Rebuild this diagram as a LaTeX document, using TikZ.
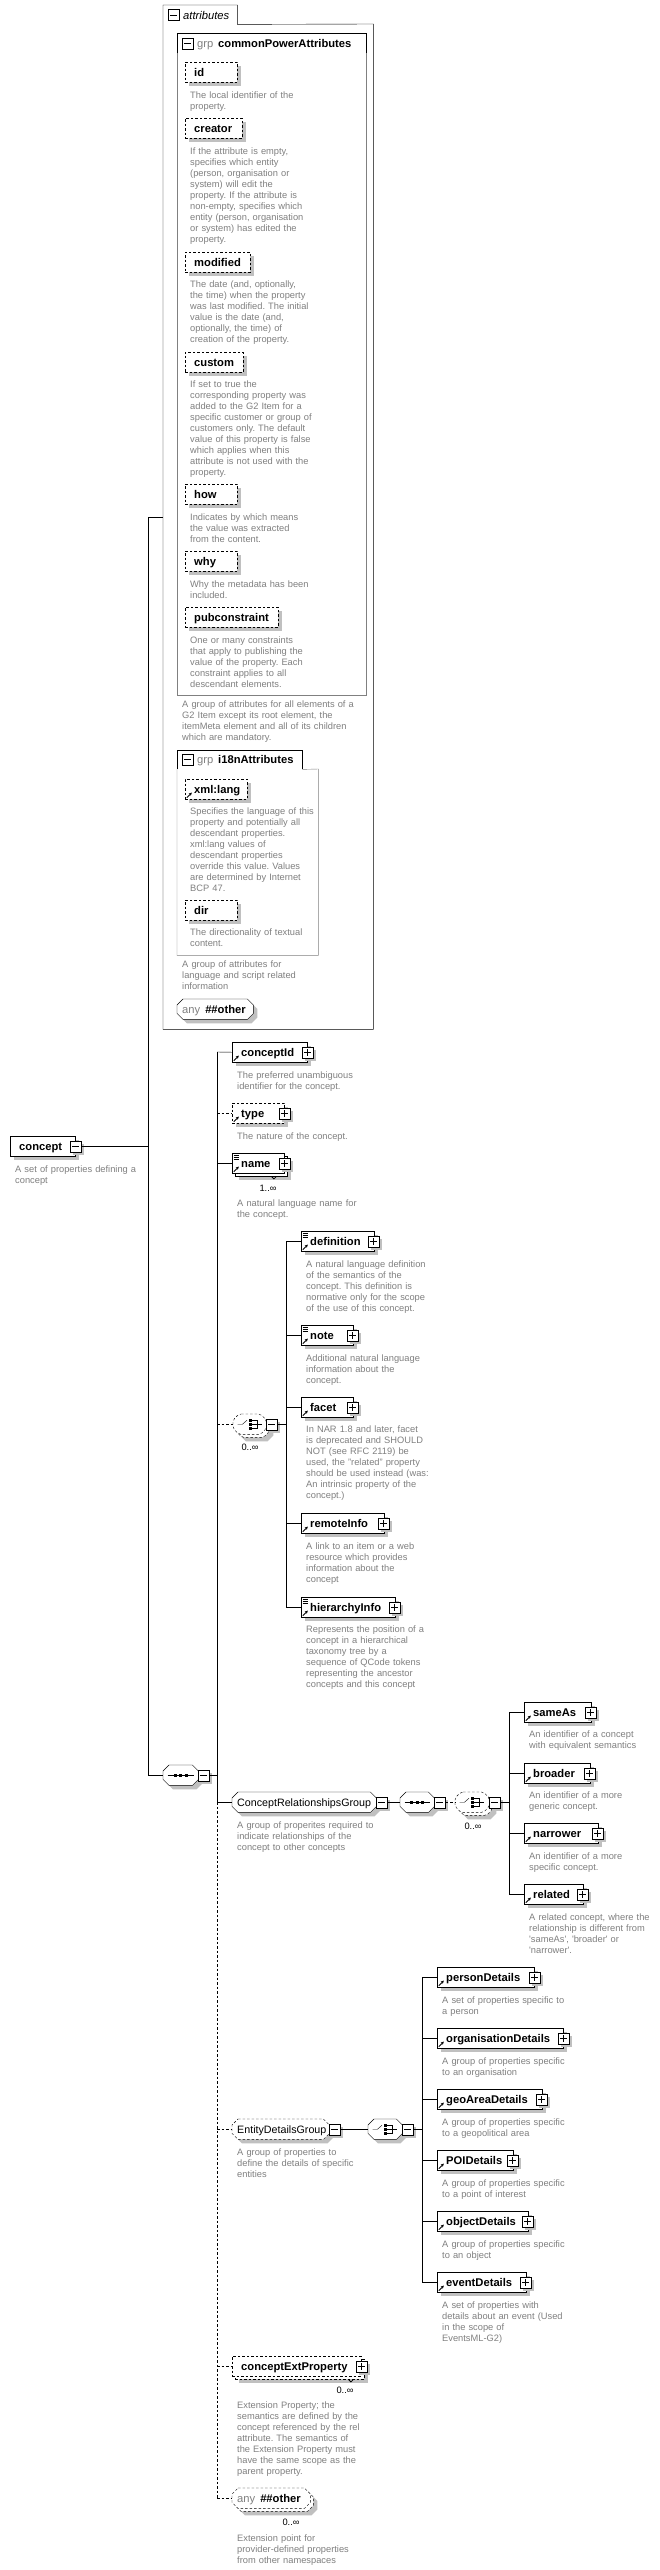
\documentclass[tikz,border=0pt]{standalone}
\usepackage{fontspec}
\setmainfont{Liberation Sans}
\usetikzlibrary{shadows,arrows.meta}
\pgfdeclarelayer{bg}
\pgfsetlayers{bg,main}
\frenchspacing
\definecolor{descc}{RGB}{128,128,128}
\definecolor{shc}{RGB}{192,192,192}
\newcommand\nmfont{\fontsize{11.2}{13}\selectfont}
\newcommand\gnfont{\fontsize{10.7}{13}\selectfont}
\newcommand\dsfont{\fontsize{9.3}{11}\selectfont}
\newcommand\pmbox[4][pms]{\node[#1] (#2) at (#3) {};
 \draw[line width=1pt] ([xshift=2.2pt]#2.west) -- ([xshift=-2.2pt]#2.east);
 \ifnum#4=1 \draw[line width=1pt] ([yshift=2.2pt]#2.south) -- ([yshift=-2.2pt]#2.north);\fi}
\newcommand\refic[1]{\draw[line width=0.9pt,-{Stealth[length=3pt,width=3pt]}] ([shift={(1.8pt,1.8pt)}]#1.south west) -- ([shift={(6.8pt,6.8pt)}]#1.south west);}
\newcommand\docic[1]{\foreach \k in {-2pt,-4pt,-6pt}{\draw[line width=0.7pt] ([shift={(1.5pt,\k)}]#1.north west) -- ([shift={(7pt,\k)}]#1.north west);}}
\newcommand\seqic[1]{\draw ([xshift=4.5pt]#1.west) -- ([xshift=-4.5pt]#1.east);
 \foreach \dx in {-5.5pt,0pt,5.5pt}{\fill ([shift={(\dx-1.5pt,-1.5pt)}]#1.center) rectangle ([shift={(\dx+1.5pt,1.5pt)}]#1.center);}}
\newcommand\choiceic[1]{\draw ([xshift=4.5pt]#1.west) -- ([xshift=9.5pt]#1.west) -- ([shift={(14pt,4pt)}]#1.west);
 \foreach \dy in {-4pt,0pt,4pt}{\fill ([shift={(16pt,\dy-1.4pt)}]#1.west) rectangle ([shift={(18.8pt,\dy+1.4pt)}]#1.west);
 \draw ([shift={(19pt,\dy)}]#1.west) -- ([shift={(24pt,\dy)}]#1.west);}
 \draw ([shift={(24pt,-4.5pt)}]#1.west) -- ([shift={(24pt,4.5pt)}]#1.west);
 \draw ([xshift=24pt]#1.west) -- ([xshift=29pt]#1.west);}
\newcommand\notch[2]{\draw[line width=0.8pt] ([xshift=#2]#1.south east) -- ++(2.5pt,-2.5pt) -- ++(2.5pt,2.5pt);}
\newcommand\octp[4]{([xshift=#2+#3,yshift=#4]#1.north west) -- ([xshift=-#2+#3,yshift=#4]#1.north east) -- ([xshift=#3,yshift=-#2+#4]#1.north east) -- ([xshift=#3,yshift=#2+#4]#1.south east) -- ([xshift=-#2+#3,yshift=#4]#1.south east) -- ([xshift=#2+#3,yshift=#4]#1.south west) -- ([xshift=#3,yshift=#2+#4]#1.south west) -- ([xshift=#3,yshift=-#2+#4]#1.north west) -- cycle}
\newcommand\octo[2][]{\begin{pgfonlayer}{bg}
 \fill[shc] \octp{#2}{6pt}{4pt}{(-4pt)};
 \draw[fill=white,#1] \octp{#2}{6pt}{0pt}{(0pt)};
\end{pgfonlayer}}
\newcommand\octm[2][]{\begin{pgfonlayer}{bg}
 \fill[shc] \octp{#2}{6pt}{7pt}{(-7pt)};
 \draw[fill=white,#1] \octp{#2}{6pt}{3pt}{(-3pt)};
 \draw[fill=white,#1] \octp{#2}{6pt}{0pt}{(0pt)};
\end{pgfonlayer}}
\tikzset{
 bx/.style={anchor=north west, inner sep=0pt, text width=#1, minimum height=20pt, text height=10pt, text depth=2pt, align=left, font=\nmfont\bfseries, execute at begin node={\hyphenpenalty=10000\exhyphenpenalty=10000}},
 shd/.style={drop shadow={shadow xshift=4pt, shadow yshift=-4pt, fill=shc, opacity=1}},
 el/.style={bx=#1, draw, fill=white, shd},
 elns/.style={bx=#1, draw, fill=white},
 dsh/.style={dash pattern=on 2.5pt off 2pt},
 attr/.style={bx=#1, draw, dsh, fill=white, shd},
 ds/.style={anchor=base west, inner sep=0pt, text width=220pt, align=left, font=\dsfont, text=descc},
 lbl/.style={anchor=base west, inner sep=0pt},
 mult/.style={anchor=base, inner sep=0pt, font=\dsfont},
 pm/.style={draw, fill=white, minimum size=11pt, inner sep=0pt},
 pms/.style={pm, drop shadow={shadow xshift=3pt, shadow yshift=-3pt, fill=shc, opacity=1}},
 fr/.style={anchor=north west, inner sep=0pt},
}
\begin{document}
\begin{tikzpicture}[x=1pt,y=-1pt,line width=1pt]
\begin{pgfonlayer}{bg}\fill[white] (0,0) rectangle (659,2570);\end{pgfonlayer}
\useasboundingbox (0,0) rectangle (659,2570);
% ---------- attributes frame
\node[fr, minimum width=74pt, minimum height=19pt] (attrTab) at (163,5) {};
\node[fr, minimum width=210pt, minimum height=1005pt] (attrs) at (163,24) {};
\draw (attrs.south west) -- (attrTab.north west) -- (attrTab.north east) -- (attrTab.south east) -- (attrs.north east) -- (attrs.south east) -- cycle;
\pmbox[pm]{attrM}{173.5,15}{0}
\node[lbl, font=\nmfont\itshape] (attrT) at (183,19) {attributes};
% ---------- grp commonPowerAttributes
\node[fr, minimum width=189pt, minimum height=20pt] (g1Tab) at (177,33) {};
\node[fr, minimum width=189pt, minimum height=642pt] (g1) at (177,53) {};
\draw[descc] (g1Tab.south east) -- (g1.south east) -- (g1.south west) -- (g1Tab.south west);
\draw (g1Tab.south west) -- (g1Tab.north west) -- (g1Tab.north east) -- (g1Tab.south east);
\pmbox[pm]{g1M}{187.5,43.5}{0}
\node[lbl, font=\nmfont, text=descc] (g1k) at (197,47.5) {grp};
\node[lbl, font=\nmfont\bfseries] (g1T) at (218,47.5) {commonPowerAttributes};
\node[attr=52pt] (aId) at (185,62) {\hspace*{9pt}id};
\node[ds] (dId) at (190,98.5) {The local identifier of the\\property.};
\node[attr=57pt] (aCreator) at (185,118) {\hspace*{9pt}creator};
\node[ds] (dCreator) at (190,154.5) {If the attribute is empty,\\specifies which entity\\(person, organisation or\\system) will edit the\\property. If the attribute is\\non-empty, specifies which\\entity (person, organisation\\or system) has edited the\\property.};
\node[attr=65pt] (aModified) at (185,252) {\hspace*{9pt}modified};
\node[ds] (dModified) at (190,287.5) {The date (and, optionally,\\the time) when the property\\was last modified. The initial\\value is the date (and,\\optionally, the time) of\\creation of the property.};
\node[attr=58pt] (aCustom) at (185,352) {\hspace*{9pt}custom};
\node[ds] (dCustom) at (190,387.5) {If set to true the\\corresponding property was\\added to the G2 Item for a\\specific customer or group of\\customers only. The default\\value of this property is false\\which applies when this\\attribute is not used with the\\property.};
\node[attr=52pt] (aHow) at (185,484) {\hspace*{9pt}how};
\node[ds] (dHow) at (190,520.5) {Indicates by which means\\the value was extracted\\from the content.};
\node[attr=52pt] (aWhy) at (185,551) {\hspace*{9pt}why};
\node[ds] (dWhy) at (190,587.5) {Why the metadata has been\\included.};
\node[attr=93pt] (aPub) at (185,607) {\hspace*{9pt}pubconstraint};
\node[ds] (dPub) at (190,643.5) {One or many constraints\\that apply to publishing the\\value of the property. Each\\constraint applies to all\\descendant elements.};
\node[ds] (dG1) at (182,707.5) {A group of attributes for all elements of a\\G2 Item except its root element, the\\itemMeta element and all of its children\\which are mandatory.};
% ---------- grp i18nAttributes
\node[fr, minimum width=125pt, minimum height=19pt] (g2Tab) at (177,750) {};
\node[fr, minimum width=141pt, minimum height=186pt] (g2) at (177,769) {};
\draw[descc] (g2Tab.south east) -- (g2.north east) -- (g2.south east) -- (g2.south west) -- (g2Tab.south west);
\draw (g2Tab.south west) -- (g2Tab.north west) -- (g2Tab.north east) -- (g2Tab.south east);
\pmbox[pm]{g2M}{187.5,759.5}{0}
\node[lbl, font=\nmfont, text=descc] (g2k) at (197,763.5) {grp};
\node[lbl, font=\nmfont\bfseries] (g2T) at (218,763.5) {i18nAttributes};
\node[attr=62pt] (aLang) at (185,779) {\hspace*{9pt}xml:lang};
\refic{aLang}
\node[ds] (dLang) at (190,814.5) {Specifies the language of this\\property and potentially all\\descendant properties.\\xml:lang values of\\descendant properties\\override this value. Values\\are determined by Internet\\BCP 47.};
\node[attr=52pt] (aDir) at (185,900) {\hspace*{9pt}dir};
\node[ds] (dDir) at (190,935.5) {The directionality of textual\\content.};
\node[ds] (dG2) at (182,967.5) {A group of attributes for\\language and script related\\information};
\node[bx=76pt] (anyA) at (177,999) {\hspace*{5pt}{\mdseries\color{descc}any}\hspace{5pt}\#\#other};
\octo{anyA}
% ---------- concept
\node[el=65pt] (concept) at (10,1136) {\hspace*{9pt}concept};
\pmbox{conceptM}{concept.east}{0}
\node[ds] (dConcept) at (15,1172) {A set of properties defining a\\concept};
\coordinate (s1t) at (148,517);
\node[bx=35pt] (seq1) at (163,1765) {};
\octo{seq1}
\seqic{seq1}
\pmbox{seq1M}{[xshift=5.5pt]seq1.east}{0}
\draw (s1t) -- (attrs.west |- s1t);
\draw (s1t) -- (s1t |- seq1.west) -- (seq1.west);
\draw (conceptM.east) -- (conceptM.east -| s1t);
% ---------- main sequence
\coordinate (s2) at (217,1052);
\draw (seq1M.east) -- (seq1M.east -| s2);
\node[el=75pt] (cid) at (232,1042) {\hspace*{9pt}conceptId};
\refic{cid}\pmbox{cidP}{cid.east}{1}
\node[ds] (dCid) at (237,1078.5) {The preferred unambiguous\\identifier for the concept.};
\node[attr=52pt] (type) at (232,1103) {\hspace*{9pt}type};
\refic{type}\pmbox{typeP}{type.east}{1}
\node[ds] (dType) at (237,1139.5) {The nature of the concept.};
\node[el=52pt] (nameB) at (235,1156) {};
\node[elns=52pt] (name) at (232,1153) {\hspace*{9pt}name};
\docic{name}\refic{name}\pmbox{nameP}{name.east}{1}
\notch{nameB}{-16pt}
\node[mult] (nameMul) at (268,1191) {1..∞};
\node[ds] (dName) at (237,1206.5) {A natural language name for\\the concept.};
% choice 1
\node[bx=33pt] (ch1) at (233,1414) {};
\octm[dsh,rounded corners=2pt]{ch1}
\choiceic{ch1}
\pmbox{ch1M}{[xshift=5.5pt]ch1.east}{0}
\node[mult] (ch1Mul) at (250,1450) {0..∞};
\coordinate (s3) at (286,1241);
\draw (ch1M.east) -- (ch1M.east -| s3);
\node[el=72.5pt] (def) at (301,1231) {\hspace*{9pt}definition};
\docic{def}\refic{def}\pmbox{defP}{def.east}{1}
\node[ds] (dDef) at (306,1267.5) {A natural language definition\\of the semantics of the\\concept. This definition is\\normative only for the scope\\of the use of this concept.};
\node[el=51.5pt] (note) at (301,1325) {\hspace*{9pt}note};
\docic{note}\refic{note}\pmbox{noteP}{note.east}{1}
\node[ds] (dNote) at (306,1361.5) {Additional natural language\\information about the\\concept.};
\node[el=51.5pt] (facet) at (301,1397) {\hspace*{9pt}facet};
\refic{facet}\pmbox{facetP}{facet.east}{1}
\node[ds] (dFacet) at (306,1432.5) {In NAR 1.8 and later, facet\\is deprecated and SHOULD\\NOT (see RFC 2119) be\\used, the "related" property\\should be used instead (was:\\An intrinsic property of the\\concept.)};
\node[el=82.5pt] (remote) at (301,1513) {\hspace*{9pt}remoteInfo};
\refic{remote}\pmbox{remoteP}{remote.east}{1}
\node[ds] (dRemote) at (306,1549.5) {A link to an item or a web\\resource which provides\\information about the\\concept};
\node[el=93.5pt] (hier) at (301,1597) {\hspace*{9pt}hierarchyInfo};
\docic{hier}\refic{hier}\pmbox{hierP}{hier.east}{1}
\node[ds] (dHier) at (306,1632.5) {Represents the position of a\\concept in a hierarchical\\taxonomy tree by a\\sequence of QCode tokens\\representing the ancestor\\concepts and this concept};
\draw (s3) -- (s3 |- hier.west);
\foreach \n in {def,note,facet,remote,hier} \draw (s3 |- \n.west) -- (\n.west);
% ConceptRelationshipsGroup
\node[bx=144pt, font=\gnfont] (crg) at (232,1792) {\hspace*{5pt}ConceptRelationshipsGroup};
\octo{crg}
\pmbox{crgM}{[xshift=5.5pt]crg.east}{0}
\node[ds] (dCrg) at (237,1828.5) {A group of properites required to\\indicate relationships of the\\concept to other concepts};
\node[bx=34pt] (seq2) at (400,1792) {};
\octo{seq2}\seqic{seq2}
\pmbox{seq2M}{[xshift=5.5pt]seq2.east}{0}
\node[bx=34pt] (ch2) at (455,1792) {};
\octm[dsh,rounded corners=2pt]{ch2}\choiceic{ch2}
\pmbox{ch2M}{[xshift=5.5pt]ch2.east}{0}
\node[mult] (ch2Mul) at (473,1829) {0..∞};
\draw (crgM.east) -- (seq2.west);
\draw[dsh] (seq2M.east) -- (ch2.west);
\coordinate (s4) at (509,1712);
\draw (ch2M.east) -- (ch2M.east -| s4);
\node[el=66.5pt] (same) at (524,1702) {\hspace*{9pt}sameAs};
\refic{same}\pmbox{sameP}{same.east}{1}
\node[ds] (dSame) at (529,1737.5) {An identifier of a concept\\with equivalent semantics};
\node[el=65.5pt] (broad) at (524,1763) {\hspace*{9pt}broader};
\refic{broad}\pmbox{broadP}{broad.east}{1}
\node[ds] (dBroad) at (529,1798.5) {An identifier of a more\\generic concept.};
\node[el=73.5pt] (narrow) at (524,1823) {\hspace*{9pt}narrower};
\refic{narrow}\pmbox{narrowP}{narrow.east}{1}
\node[ds] (dNarrow) at (529,1859.5) {An identifier of a more\\specific concept.};
\node[el=58.5pt] (rel) at (524,1884) {\hspace*{9pt}related};
\refic{rel}\pmbox{relP}{rel.east}{1}
\node[ds] (dRel) at (529,1920.5) {A related concept, where the\\relationship is different from\\\textquotesingle sameAs\textquotesingle, \textquotesingle broader\textquotesingle\ or\\\textquotesingle narrower\textquotesingle.};
\draw (s4) -- (s4 |- rel.west);
\foreach \n in {same,broad,narrow,rel} \draw (s4 |- \n.west) -- (\n.west);
% EntityDetailsGroup
\node[bx=97pt, font=\gnfont] (edg) at (232,2119) {\hspace*{5pt}EntityDetailsGroup};
\octo[dsh]{edg}
\pmbox{edgM}{[xshift=5.5pt]edg.east}{0}
\node[ds] (dEdg) at (237,2155.5) {A group of properties to\\define the details of specific\\entities};
\node[bx=34pt] (ch3) at (368,2119) {};
\octo{ch3}\choiceic{ch3}
\pmbox{ch3M}{[xshift=5.5pt]ch3.east}{0}
\draw (edgM.east) -- (ch3.west);
\coordinate (s5) at (422,1977);
\draw (ch3M.east) -- (ch3M.east -| s5);
\node[el=97pt] (person) at (437,1967) {\hspace*{9pt}personDetails};
\refic{person}\pmbox{personP}{person.east}{1}
\node[ds] (dPerson) at (442,2003.5) {A set of properties specific to\\a person};
\node[el=126pt] (org) at (437,2028) {\hspace*{9pt}organisationDetails};
\refic{org}\pmbox{orgP}{org.east}{1}
\node[ds] (dOrg) at (442,2064.5) {A group of properties specific\\to an organisation};
\node[el=104.5pt] (geo) at (437,2089) {\hspace*{9pt}geoAreaDetails};
\refic{geo}\pmbox{geoP}{geo.east}{1}
\node[ds] (dGeo) at (442,2125.5) {A group of properties specific\\to a geopolitical area};
\node[el=75.5pt] (poi) at (437,2150) {\hspace*{9pt}POIDetails};
\refic{poi}\pmbox{poiP}{poi.east}{1}
\node[ds] (dPoi) at (442,2186.5) {A group of properties specific\\to a point of interest};
\node[el=90.5pt] (obj) at (437,2211) {\hspace*{9pt}objectDetails};
\refic{obj}\pmbox{objP}{obj.east}{1}
\node[ds] (dObj) at (442,2247.5) {A group of properties specific\\to an object};
\node[el=88.5pt] (event) at (437,2272) {\hspace*{9pt}eventDetails};
\refic{event}\pmbox{eventP}{event.east}{1}
\node[ds] (dEvent) at (442,2308.5) {A set of properties with\\details about an event (Used\\in the scope of\\EventsML-G2)};
\draw (s5) -- (s5 |- event.west);
\foreach \n in {person,org,geo,poi,obj,event} \draw (s5 |- \n.west) -- (\n.west);
% conceptExtProperty
\node[attr=129pt] (cextB) at (235,2359) {};
\node[elns=129pt, dsh] (cext) at (232,2356) {\hspace*{9pt}conceptExtProperty};
\pmbox{cextP}{cext.east}{1}
\notch{cextB}{-16pt}
\node[mult] (cextMul) at (345,2393) {0..∞};
\node[ds] (dCext) at (237,2408.5) {Extension Property; the\\semantics are defined by the\\concept referenced by the rel\\attribute. The semantics of\\the Extension Property must\\have the same scope as the\\parent property.};
% any ##other
\node[bx=78pt] (anyE) at (232,2488) {\hspace*{5pt}{\mdseries\color{descc}any}\hspace{5pt}\#\#other};
\octm[dsh]{anyE}
\node[mult] (anyEMul) at (291,2525) {0..∞};
\node[ds] (dAnyE) at (237,2541.5) {Extension point for\\provider-defined properties\\from other namespaces};
% spine 2
\draw (s2) -- (s2 |- crg.west);
\draw[dsh] (s2 |- crg.west) -- (s2 |- anyE.west);
\draw (s2) -- (cid.west);
\draw[dsh] (s2 |- type.west) -- (type.west);
\draw (s2 |- name.west) -- (name.west);
\draw[dsh] (s2 |- ch1.west) -- (ch1.west);
\draw (s2 |- crg.west) -- (crg.west);
\draw[dsh] (s2 |- edg.west) -- (edg.west);
\draw[dsh] (s2 |- cext.west) -- (cext.west);
\draw[dsh] (s2 |- anyE.west) -- (anyE.west);
\end{tikzpicture}
\end{document}
